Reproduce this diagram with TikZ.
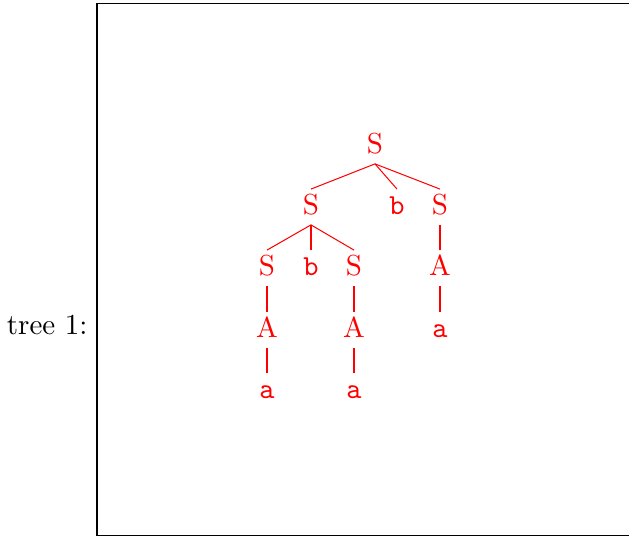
\documentclass[tikz,border=0pt]{standalone}
\usepackage[usenames,dvipsnames,svgnames,table]{xcolor}
\usepackage{tikz}
\usetikzlibrary{positioning}

\begin{document}
\begin{tikzpicture}[x=0.345pt, y=-0.345pt, line width=0.35pt,
		sym/.style={text=red, inner sep=0pt, text height=8.5pt, text depth=3.5pt},
		term/.style={sym, font=\ttfamily},
		branch/.style={red}]
	\useasboundingbox (0,0) rectangle (629,537);
	\draw (629,4) -- (97,4) -- (97,536) -- (629,536);
	\node[anchor=east, inner sep=0pt] (lbl) at (88,325) {tree 1:};

	\node[sym]  (S0)  at (375,146) {S};
	\node[sym]  (S1)  at (311,207) {S};
	\node[term] (b1)  at (397,207) {b};
	\node[sym]  (S2)  at (440,207) {S};
	\node[sym]  (S3)  at (267,268) {S};
	\node[term] (b2)  at (311,268) {b};
	\node[sym]  (S4)  at (354,268) {S};
	\node[sym]  (A1)  at (440,268) {A};
	\node[sym]  (A2)  at (267,330) {A};
	\node[sym]  (A3)  at (354,330) {A};
	\node[term] (a1)  at (440,330) {a};
	\node[term] (a2)  at (267,391) {a};
	\node[term] (a3)  at (354,391) {a};

	\path[branch]	(S0.south) edge (S1.north)
			(S0.south) edge (b1.north)
			(S0.south) edge (S2.north)
			(S1.south) edge (S3.north)
			(S1.south) edge (b2.north)
			(S1.south) edge (S4.north)
			(S2.south) edge (A1.north)
			(A1.south) edge (a1.north)
			(S3.south) edge (A2.north)
			(A2.south) edge (a2.north)
			(S4.south) edge (A3.north)
			(A3.south) edge (a3.north);
\end{tikzpicture}
\end{document}
